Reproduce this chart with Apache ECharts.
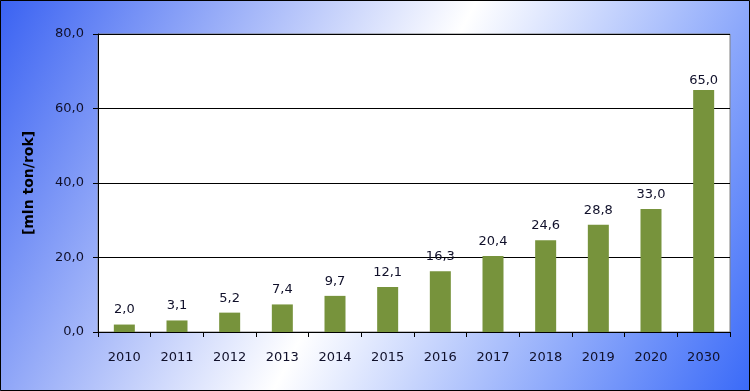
<!DOCTYPE html>
<html><head><meta charset="utf-8">
<script src="https://cdn.jsdelivr.net/npm/echarts@6/dist/echarts.min.js"></script>
<style>html,body{margin:0;padding:0;}#c{width:750px;height:391px;}</style>
</head><body><div id="c"></div>
<script>
var categories = ['2010','2011','2012','2013','2014','2015','2016','2017','2018','2019','2020','2030'];
var values = [2.0, 3.1, 5.2, 7.4, 9.7, 12.1, 16.3, 20.4, 24.6, 28.8, 33.0, 65.0];
var yTicks = [0, 20, 40, 60, 80];
var fmt = function(v){ return Number(v).toFixed(1).replace('.', ','); };
var txt = '#10102a';
var seriesData = values.map(function(v, i){
  return i === values.length - 1 ? {value: v, label: {distance: 3}} : v;
});
var chart = echarts.init(document.getElementById('c'));
chart.setOption({
  animation: false,
  backgroundColor: {type:'linear', x:0, y:0, x2:1, y2:1, colorStops:[
    {offset:0, color:'#3a62f2'},
    {offset:0.5, color:'#ffffff'},
    {offset:1, color:'#3a6af8'}
  ]},
  textStyle: {fontFamily: 'DejaVu Sans, Verdana, sans-serif'},
  graphic: [
    {type:'rect', shape:{x:0.5, y:0.5, width:749, height:390}, style:{fill:'none', stroke:'#000', lineWidth:1}, z:100},
    {type:'rect', shape:{x:98, y:34, width:632, height:298}, style:{fill:'#fff', stroke:'#808080', lineWidth:1}, z:-1}
  ],
  grid: {left:98, top:34, right:20, bottom:59},
  xAxis: {
    type:'category', data: categories,
    axisLine:{lineStyle:{color:'#000'}},
    axisTick:{show:true, length:5, lineStyle:{color:'#000'}},
    axisLabel:{color:txt, fontSize:13, margin:19}
  },
  yAxis: {
    type:'value', min: yTicks[0], max: yTicks[yTicks.length-1], interval: 20,
    name:'[mln ton/rok]', nameLocation:'middle', nameGap:62, nameRotate:90,
    nameTextStyle:{color:'#000', fontSize:14, fontWeight:'bold'},
    axisLine:{show:true, lineStyle:{color:'#000'}},
    axisTick:{show:true, length:5, inside:false, lineStyle:{color:'#000'}},
    axisLabel:{color:txt, fontSize:13, margin:14, formatter: fmt},
    splitLine:{lineStyle:{color:'#000', width:1}}
  },
  series: [{
    type:'bar', data: seriesData, barWidth:21,
    itemStyle:{color:'#77933C'},
    label:{show:true, position:'top', color:txt, fontSize:13, distance:8, formatter: function(p){ return fmt(p.value); }}
  }]
});
</script></body></html>
